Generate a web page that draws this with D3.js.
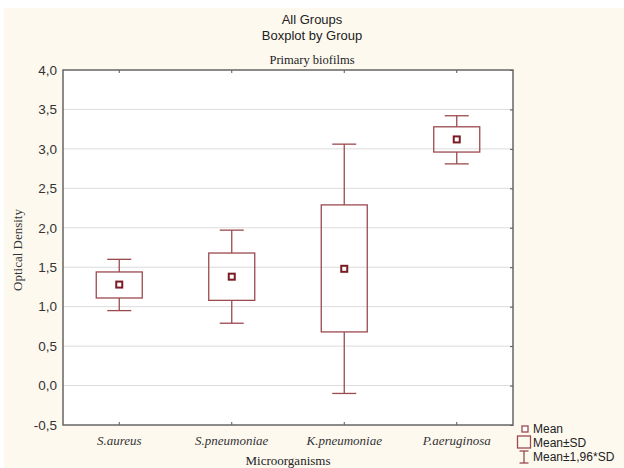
<!DOCTYPE html>
<html><head><meta charset="utf-8">
<script src="https://cdn.jsdelivr.net/npm/d3@7"></script>
<style>html,body{margin:0;padding:0;background:#fff;}svg{display:block;}</style>
</head><body>
<script>
const categories = ["S.aureus", "S.pneumoniae", "K.pneumoniae", "P.aeruginosa"];
const means = [1.28, 1.38, 1.48, 3.12];
const sdLow = [1.11, 1.08, 0.68, 2.96];
const sdHigh = [1.44, 1.68, 2.29, 3.28];
const ciLow = [0.95, 0.79, -0.10, 2.81];
const ciHigh = [1.60, 1.97, 3.06, 3.42];
const yTicks = [-0.5, 0, 0.5, 1, 1.5, 2, 2.5, 3, 3.5, 4];
const titleLines = ["All Groups", "Boxplot by Group"];
const subTitle = "Primary biofilms";
const legendItems = ["Mean", "Mean±SD", "Mean±1,96*SD"];

const W = 624, H = 468;
const m = {left: 63, right: 513, top: 70, bottom: 425};
const boxColor = "#9b4a4f", meanColor = "#7a1c24";
const sans = "Liberation Sans, Arial, sans-serif";
const serif = "Liberation Serif, Times New Roman, serif";

const svg = d3.select("body").append("svg").attr("width", W).attr("height", H);
svg.append("rect").attr("x", 4).attr("y", 8).attr("width", W - 4).attr("height", H - 8).attr("fill", "#fdf9ef");

const x = d3.scaleBand().domain(categories).range([m.left, m.right]);
const y = d3.scaleLinear().domain([-0.5, 4]).range([m.bottom, m.top]);
const fmt = v => d3.format(".1f")(v).replace(".", ",").replace("−", "-");

svg.append("rect").attr("x", m.left).attr("y", m.top).attr("width", m.right - m.left).attr("height", m.bottom - m.top).attr("fill", "#fff");

// gridlines
svg.append("g").selectAll("line").data(yTicks.slice(1, -1)).join("line")
  .attr("x1", m.left).attr("x2", m.right).attr("y1", d => y(d)).attr("y2", d => y(d))
  .attr("stroke", "#dcdcdc").attr("stroke-width", 1);

// axes
const yAxisL = svg.append("g").attr("transform", `translate(${m.left},0)`)
  .call(d3.axisLeft(y).tickValues(yTicks).tickSize(0).tickPadding(6).tickFormat(fmt));
const yAxisR = svg.append("g").attr("transform", `translate(${m.right},0)`)
  .call(d3.axisLeft(y).tickValues(yTicks).tickSize(3).tickFormat(""));
const xAxisB = svg.append("g").attr("transform", `translate(0,${m.bottom})`)
  .call(d3.axisTop(x).tickSize(3).tickFormat(""));
const xAxisT = svg.append("g").attr("transform", `translate(0,${m.top})`)
  .call(d3.axisBottom(x).tickSize(3).tickFormat(""));
[yAxisL, yAxisR, xAxisB, xAxisT].forEach(g => {
  g.select(".domain").remove();
  g.selectAll("line").attr("stroke", "#555");
});
yAxisL.selectAll("text").attr("font-family", sans).attr("font-size", 13.5).attr("fill", "#333");

// frame
svg.append("rect").attr("x", m.left).attr("y", m.top).attr("width", m.right - m.left).attr("height", m.bottom - m.top)
  .attr("fill", "none").attr("stroke", "#666").attr("stroke-width", 1.5);

// x labels
svg.append("g").selectAll("text").data(categories).join("text")
  .attr("x", d => x(d) + x.bandwidth() / 2).attr("y", 445).attr("text-anchor", "middle")
  .attr("font-family", serif).attr("font-style", "italic")
  .attr("font-size", 13).attr("fill", "#333").text(d => d);

// boxes
const bw = 46, cw = 24;
const g = svg.append("g").selectAll("g").data(categories).join("g")
  .attr("transform", d => `translate(${x(d) + x.bandwidth() / 2},0)`);
g.append("line").attr("y1", (d, i) => y(ciHigh[i])).attr("y2", (d, i) => y(sdHigh[i])).attr("stroke", boxColor).attr("stroke-width", 1.3);
g.append("line").attr("y1", (d, i) => y(sdLow[i])).attr("y2", (d, i) => y(ciLow[i])).attr("stroke", boxColor).attr("stroke-width", 1.3);
g.append("line").attr("x1", -cw / 2).attr("x2", cw / 2).attr("y1", (d, i) => y(ciHigh[i])).attr("y2", (d, i) => y(ciHigh[i])).attr("stroke", boxColor).attr("stroke-width", 1.3);
g.append("line").attr("x1", -cw / 2).attr("x2", cw / 2).attr("y1", (d, i) => y(ciLow[i])).attr("y2", (d, i) => y(ciLow[i])).attr("stroke", boxColor).attr("stroke-width", 1.3);
g.append("rect").attr("x", -bw / 2).attr("width", bw)
  .attr("y", (d, i) => y(sdHigh[i])).attr("height", (d, i) => y(sdLow[i]) - y(sdHigh[i]))
  .attr("fill", "none").attr("stroke", boxColor).attr("stroke-width", 1.3);
g.append("rect").attr("x", -3).attr("width", 6).attr("y", (d, i) => y(means[i]) - 3).attr("height", 6)
  .attr("fill", "#fff").attr("stroke", meanColor).attr("stroke-width", 2);

// titles
svg.append("g").selectAll("text").data(titleLines).join("text")
  .attr("x", 312).attr("y", (d, i) => 24 + i * 16).attr("text-anchor", "middle")
  .attr("font-family", sans).attr("font-size", 13).attr("fill", "#222").text(d => d);
svg.append("text").attr("x", 312).attr("y", 64).attr("text-anchor", "middle")
  .attr("font-family", serif).attr("font-size", 12.5).attr("fill", "#222").text(subTitle);

svg.append("text").attr("x", 288).attr("y", 465).attr("text-anchor", "middle")
  .attr("font-family", serif).attr("font-size", 13).attr("fill", "#222").text("Microorganisms");
svg.append("text").attr("transform", "translate(22,250) rotate(-90)").attr("text-anchor", "middle")
  .attr("font-family", serif).attr("font-size", 13).attr("fill", "#333").text("Optical Density");

// legend
const lg = svg.append("g").attr("transform", "translate(517,0)");
lg.append("rect").attr("x", 5).attr("y", 426).attr("width", 6).attr("height", 6).attr("fill", "#fff").attr("stroke", boxColor).attr("stroke-width", 1.3);
lg.append("rect").attr("x", 0.5).attr("y", 436).attr("width", 13).attr("height", 12).attr("fill", "none").attr("stroke", boxColor).attr("stroke-width", 1.3);
lg.append("line").attr("x1", 7).attr("x2", 7).attr("y1", 451).attr("y2", 463).attr("stroke", boxColor).attr("stroke-width", 1.3);
lg.append("line").attr("x1", 2.5).attr("x2", 11.5).attr("y1", 451).attr("y2", 451).attr("stroke", boxColor).attr("stroke-width", 1.3);
lg.append("line").attr("x1", 2.5).attr("x2", 11.5).attr("y1", 463).attr("y2", 463).attr("stroke", boxColor).attr("stroke-width", 1.3);
lg.selectAll("text.l").data(legendItems).join("text").attr("class", "l")
  .attr("x", 16).attr("y", (d, i) => 433 + i * 14)
  .attr("font-family", sans).attr("font-size", 12).attr("fill", "#222").text(d => d);
</script>
</body></html>
